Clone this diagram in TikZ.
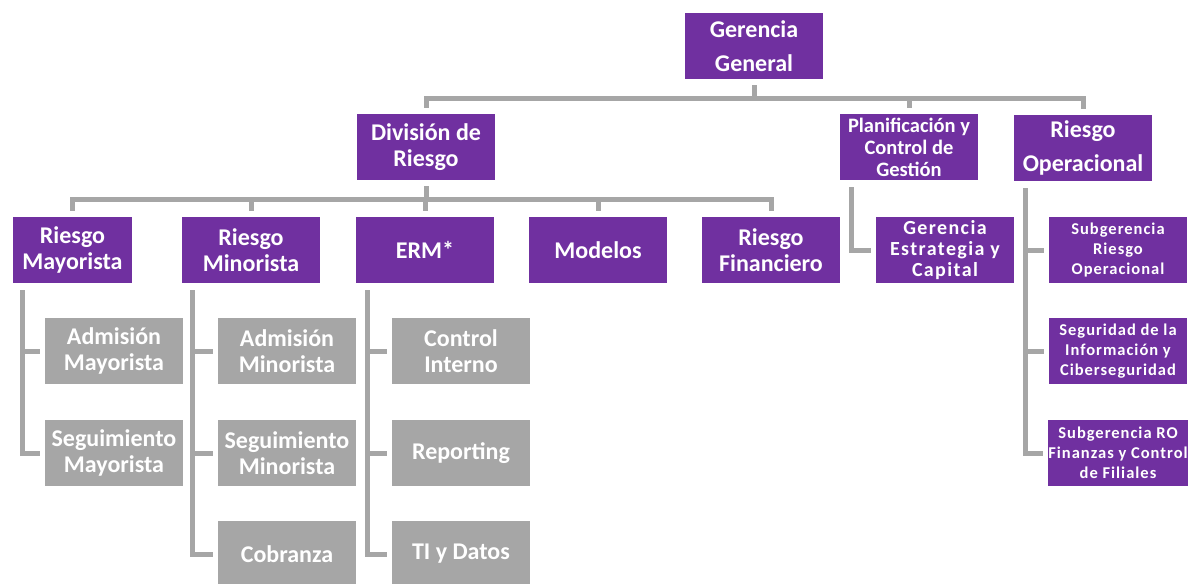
\documentclass[tikz,border=0pt]{standalone}
\usepackage{fontspec}
\setmainfont{Carlito}
\newfontfamily\spaced[LetterSpace=7]{Carlito}
\newfontfamily\spacedb[LetterSpace=6]{Carlito}
\definecolor{pur}{HTML}{7030A0}
\definecolor{gbox}{HTML}{A6A6A6}
\definecolor{lgray}{HTML}{A6A6A6}
\begin{document}
\begin{tikzpicture}[x=1pt,y=-1pt,
  boxbase/.style={text=white, align=center, inner sep=0pt, minimum width=138pt, minimum height=66pt, anchor=center},
  pbox/.style={boxbase, fill=pur, font=\fontsize{24}{26}\selectfont\bfseries},
  gybox/.style={boxbase, fill=gbox, font=\fontsize{24}{26}\selectfont\bfseries},
  plbox/.style={boxbase, fill=pur, font=\fontsize{20.5}{22}\selectfont\bfseries},
  spbox/.style={boxbase, fill=pur, font=\fontsize{20}{21}\selectfont\spaced\bfseries},
  smbox/.style={boxbase, fill=pur, font=\fontsize{16.5}{20}\selectfont\spacedb\bfseries},
  conn/.style={draw=lgray, line width=5pt}]
\useasboundingbox (0,0) rectangle (1190,583);
% boxes
\node[pbox, font=\fontsize{24}{34}\selectfont\bfseries] (gg) at (754,46) {Gerencia\\General};
\node[pbox] (div) at (426,147) {División de\\Riesgo};
\node[plbox] (pc) at (909,147) {Planificación y\\Control de\\Gestión};
\node[pbox, font=\fontsize{24}{34}\selectfont\bfseries] (ro) at (1083,148) {Riesgo\\Operacional};
\node[pbox, minimum width=119pt] (rmay) at (72.5,250) {Riesgo\\Mayorista};
\node[pbox] (rmin) at (251,250) {Riesgo\\Minorista};
\node[pbox] (erm) at (425,250) {ERM*};
\node[pbox] (mod) at (598,250) {Modelos};
\node[pbox] (rfin) at (771,250) {Riesgo\\Financiero};
\node[spbox] (gec) at (945,250) {Gerencia\\Estrategia y\\Capital};
\node[smbox] (sro) at (1118,250) {Subgerencia\\Riesgo\\Operacional};
\node[smbox] (sic) at (1118,351) {Seguridad de la\\Información y\\Ciberseguridad};
\node[smbox] (sfin) at (1118,453) {Subgerencia RO\\Finanzas y Control\\de Filiales};
\node[gybox] (am) at (114,351) {Admisión\\Mayorista};
\node[gybox] (sm) at (114,453) {Seguimiento\\Mayorista};
\node[gybox] (ami) at (287,351) {Admisión\\Minorista};
\node[gybox] (smi) at (287,453) {Seguimiento\\Minorista};
\node[gybox] (cob) at (287,554) {Cobranza};
\node[gybox] (ci) at (461,351) {Control\\Interno};
\node[gybox] (rep) at (461,453) {Reporting};
\node[gybox] (tid) at (461,554) {TI y Datos};
% top connectors
\coordinate (h1) at ([yshift=-19]gg.south);
\draw[conn] ([yshift=-6]gg.south) -- (h1);
\draw[conn] ([yshift=6]div.north) |- (h1) -| ([yshift=6]ro.north);
\draw[conn] ([yshift=6]pc.north) -- (pc.north |- h1);
% division connectors
\coordinate (h2) at ([yshift=-19]div.south);
\draw[conn] ([yshift=-6]div.south) -- (h2);
\draw[conn] ([yshift=6]rmay.north) |- (h2) -| ([yshift=6]rfin.north);
\draw[conn] ([yshift=6]rmin.north) -- (rmin.north |- h2);
\draw[conn] ([yshift=6]erm.north) -- (erm.north |- h2);
\draw[conn] ([yshift=6]mod.north) -- (mod.north |- h2);
% sub-branches
\draw[conn] ([xshift=10,yshift=-7]rmay.south west) |- ([xshift=-5]sm.west);
\draw[conn] ([xshift=10]rmay.south west |- am.west) -- ([xshift=-5]am.west);
\draw[conn] ([xshift=11,yshift=-7]rmin.south west) |- ([xshift=-5]cob.west);
\draw[conn] ([xshift=11]rmin.south west |- ami.west) -- ([xshift=-5]ami.west);
\draw[conn] ([xshift=11]rmin.south west |- smi.west) -- ([xshift=-5]smi.west);
\draw[conn] ([xshift=12,yshift=-7]erm.south west) |- ([xshift=-5]tid.west);
\draw[conn] ([xshift=12]erm.south west |- ci.west) -- ([xshift=-5]ci.west);
\draw[conn] ([xshift=12]erm.south west |- rep.west) -- ([xshift=-5]rep.west);
\draw[conn] ([xshift=12,yshift=-7]pc.south west) |- ([xshift=-5]gec.west);
\draw[conn] ([xshift=12,yshift=-7]ro.south west) |- ([xshift=-5]sfin.west);
\draw[conn] ([xshift=12]ro.south west |- sro.west) -- ([xshift=-5]sro.west);
\draw[conn] ([xshift=12]ro.south west |- sic.west) -- ([xshift=-5]sic.west);
\end{tikzpicture}
\end{document}
